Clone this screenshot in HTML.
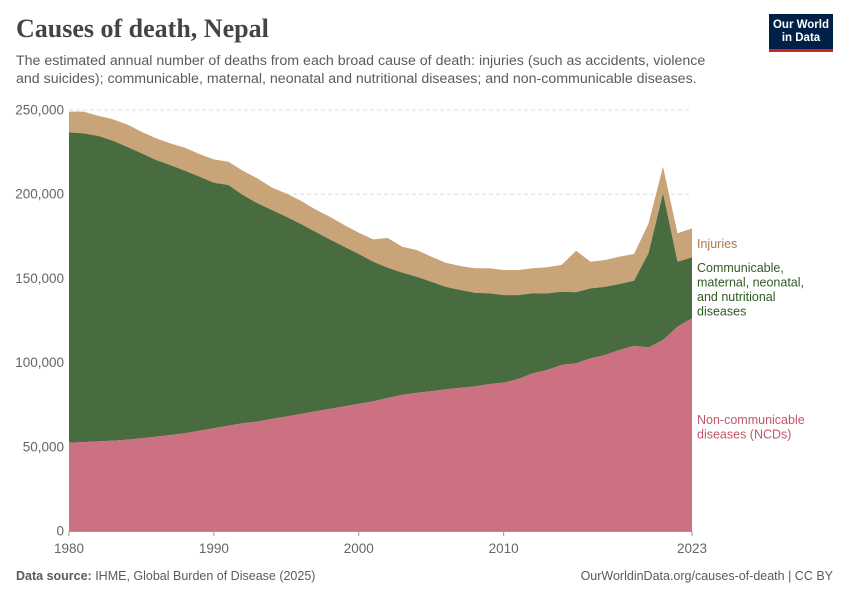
<!DOCTYPE html>
<html><head><meta charset="utf-8"><style>
body{margin:0;background:#fff;font-family:"Liberation Sans",sans-serif;}
#wrap{position:relative;width:850px;height:600px;overflow:hidden;}
.t{position:absolute;white-space:nowrap;}
</style></head><body><div id="wrap">
<div class="t" style="left:16px;top:14px;font-family:'Liberation Serif',serif;font-size:26px;font-weight:bold;color:#444;">Causes of death, Nepal</div>
<div class="t" style="left:16px;top:52px;font-size:14.2px;color:#5b5b5b;line-height:18px;">The estimated annual number of deaths from each broad cause of death: injuries (such as accidents, violence<br>and suicides); communicable, maternal, neonatal and nutritional diseases; and non-communicable diseases.</div>
<div style="position:absolute;left:769px;top:14px;width:64px;height:38px;background:#002147;border-bottom:3px solid #ce261e;box-sizing:border-box;color:#fff;font-size:11.5px;line-height:13px;text-align:center;padding-top:5px;font-weight:bold;">Our World<br>in Data</div>
<svg id="chart" width="850" height="600" style="position:absolute;left:0;top:0;"></svg>
<div class="t" style="left:16px;top:569px;font-size:12.5px;color:#5b5b5b;"><b>Data source:</b> IHME, Global Burden of Disease (2025)</div>
<div class="t" style="right:17px;top:569px;font-size:12.5px;color:#5b5b5b;">OurWorldinData.org/causes-of-death | CC BY</div>
</div>
<script>
const years=[];for(let y=1980;y<=2023;y++)years.push(y);
const ncd=[52.4,52.8,53.2,53.6,54.2,55.0,56.0,57.0,58.0,59.5,61.0,62.5,64.0,65.0,66.5,68.0,69.5,71.0,72.5,74.0,75.5,77.0,79.0,80.8,82.0,83.0,84.1,85.0,85.8,87.2,88.1,90.2,93.6,95.6,98.6,99.6,102.5,104.5,107.5,109.9,109.0,113.4,121.3,126.3];
const communicable=[184.3,183.3,181.4,178.2,174.0,169.3,164.3,160.3,155.9,150.9,145.8,143.0,135.5,129.6,124.1,118.6,112.8,106.7,100.7,94.8,89.0,82.9,77.3,72.6,69.0,65.0,60.9,58.1,55.7,53.9,52.0,49.9,47.5,45.5,43.5,42.2,41.6,40.5,39.2,38.7,55.9,87.1,38.6,36.2];
const injuries=[12.3,12.9,12.0,12.8,13.3,12.8,12.9,12.9,13.7,13.5,13.9,13.8,14.4,14.8,13.4,13.8,13.8,13.3,13.4,12.9,12.6,13.3,17.7,15.4,15.9,14.9,14.3,14.3,14.5,14.9,14.9,14.9,14.9,15.5,15.9,24.6,15.8,15.9,16.2,15.9,17.8,15.8,16.9,17.2];
const yTicks=[0,50000,100000,150000,200000,250000];
const xTicks=[1980,1990,2000,2010,2023];
const X0=69,X1=692,Y0=531,Y1=110;
const xs=y=>X0+(y-1980)/(2023-1980)*(X1-X0);
const ys=v=>Y0-v/250000*(Y0-Y1);
const svg=document.getElementById('chart');const NS='http://www.w3.org/2000/svg';
function mk(t,a){const e=document.createElementNS(NS,t);for(const k in a)e.setAttribute(k,a[k]);svg.appendChild(e);return e;}
yTicks.forEach(v=>{
 if(v>0){const l=mk('line',{x1:X0,x2:X1,y1:ys(v),y2:ys(v),stroke:'#ddd','stroke-dasharray':'4,3'});
 
 }
 const t=mk('text',{x:64,y:ys(v)+4.5,'text-anchor':'end','font-size':'13.5','fill':'#666','font-family':'Liberation Sans, sans-serif'});
 t.textContent=v.toLocaleString('en-US');
 
 
});
const s1=ncd.map(v=>v*1000),s2=communicable.map((v,i)=>s1[i]+v*1000),s3=injuries.map((v,i)=>s2[i]+v*1000);
function area(lo,hi,col,name){
 let d='M'+years.map((y,i)=>xs(y)+','+ys(hi[i])).join('L');
 for(let i=years.length-1;i>=0;i--)d+='L'+xs(years[i])+','+ys(lo?lo[i]:0);
 const p=mk('path',{d:d+'Z',fill:col});
 
 
}
area(s2,s3,'#c8a478','injuries-area');
area(s1,s2,'#486c40','communicable-area');
area(null,s1,'#cc7182','ncd-area');
const ax=mk('line',{x1:X0,x2:X1,y1:Y0+.5,y2:Y0+.5,stroke:'#999'});


xTicks.forEach(y=>{
 const tk=mk('line',{x1:xs(y),x2:xs(y),y1:Y0,y2:Y0+5,stroke:'#999'});
 
 
 const t=mk('text',{x:xs(y),y:553,'text-anchor':'middle','font-size':'13.5','fill':'#666','font-family':'Liberation Sans, sans-serif'});
 t.textContent=y;
 
 
});
const legends=[[['Injuries'],248,'#a87b4c','legend-injuries'],[['Communicable,','maternal, neonatal,','and nutritional','diseases'],272,'#2e5b22','legend-communicable'],[['Non-communicable','diseases (NCDs)'],424,'#c4566b','legend-ncd']];
legends.forEach(([lines,y0,c,n])=>{
 const t=mk('text',{x:697,y:y0,'font-size':'12.5','fill':c,'font-family':'Liberation Sans, sans-serif'});
 
 
 lines.forEach((s,i)=>{const ts=document.createElementNS(NS,'tspan');ts.setAttribute('x',697);ts.setAttribute('y',y0+i*14.5);ts.textContent=s;t.appendChild(ts);});
});
</script></body></html>
